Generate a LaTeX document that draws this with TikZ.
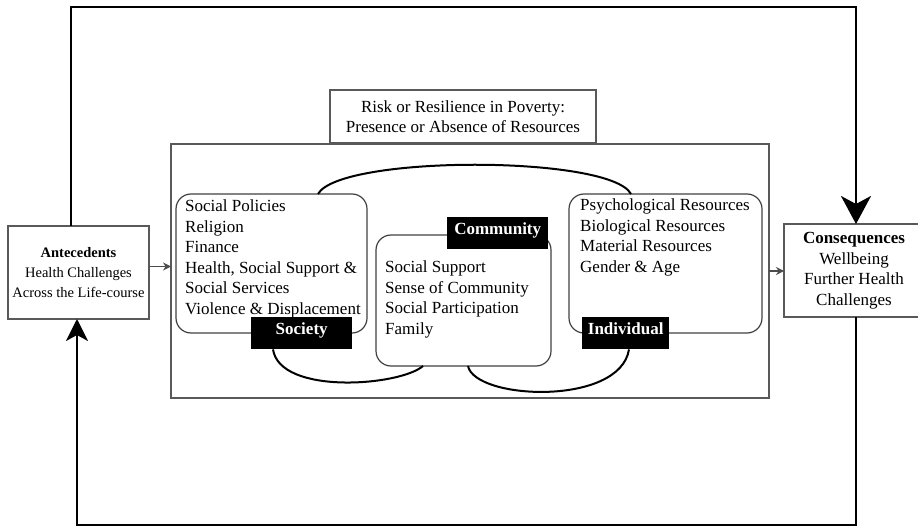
\documentclass[tikz,border=0pt]{standalone}
\usepackage{fontspec}
\setmainfont{Liberation Serif}
\usepackage{tikz}
\usetikzlibrary{arrows.meta}
\newcommand{\bodysize}{\fontsize{17}{20.5}\selectfont}
\newcommand{\smallsize}{\fontsize{14.5}{20}\selectfont}

\begin{document}
\begin{tikzpicture}[x=1pt,y=-1pt,
  box/.style={draw=black!65,line width=1.2pt,inner sep=0pt,outer sep=0pt,anchor=north west,font=\bodysize},
  rbox/.style={box,draw=black!75,rounded corners=15pt},
  tag/.style={fill=black,text=white,font=\bodysize\bfseries,inner xsep=0pt,inner ysep=4pt,text height=13pt,text depth=11pt,anchor=north west},
  items/.style={anchor=north west,align=left,inner sep=0pt,font=\bodysize},
  tie/.style={line width=2pt},
  feedback/.style={line width=2.6pt},
  flow/.style={line width=1.2pt,draw=black!70,-{Stealth[length=8pt,width=8pt]}}]
\useasboundingbox (0,0) rectangle (918,526);

\node[box,minimum width=598pt,minimum height=254pt] (frame) at (171,144) {};
\node[box,minimum width=266pt,minimum height=53pt,align=center] (title) at (330,90) {Risk or Resilience in Poverty:\\Presence or Absence of Resources};
\node[box,minimum width=141pt,minimum height=93pt,align=center,font=\smallsize] (ant) at (8,226) {\textbf{Antecedents}\\Health Challenges\\Across the Life-course};
\node[box,minimum width=140pt,minimum height=93pt,align=center] (cons) at (784,224) {\textbf{Consequences}\\Wellbeing\\Further Health\\Challenges};

\node[rbox,minimum width=191pt,minimum height=139pt] (soc) at (176,194) {};
\node[rbox,minimum width=175pt,minimum height=131pt] (com) at (376,235) {};
\node[rbox,minimum width=193pt,minimum height=139pt] (ind) at (569,194) {};
\node[items] (soctxt) at (185,200) {Social Policies\\Religion\\Finance\\Health, Social Support \&\\Social Services\\Violence \& Displacement};
\node[items] (comtxt) at (385,261) {Social Support\\Sense of Community\\Social Participation\\Family};
\node[items] (indtxt) at (580,199) {Psychological Resources\\Biological Resources\\Material Resources\\Gender \& Age};

\node[tag,minimum width=101pt] (soctag) at (251,317) {Society};
\node[tag,minimum width=101pt] (comtag) at (447,217) {Community};
\node[tag,minimum width=87pt] (indtag) at (582,317) {Individual};

\draw[tie] ([xshift=142pt]soc.north west) .. controls +(22,-39) and +(-21,-39) .. ([xshift=62pt]ind.north west);
\draw[tie] ([xshift=22pt]soctag.south west) .. controls +(7,46) and +(-23,20) .. ([xshift=47pt]com.south west);
\draw[tie] ([xshift=92pt]com.south west) .. controls +(7,34) and +(-9,57) .. ([xshift=47pt]indtag.south west);

\coordinate (antout) at ([yshift=6pt]ant.east);
\draw[flow] (antout) -- (antout -| frame.west);
\draw[flow] (frame.east) -- (frame.east -| cons.west);

\draw[feedback,-{Stealth[length=28pt,width=30pt,inset=8pt]}] ([xshift=63pt]ant.north west) -- ++(0,-219) -| ([xshift=72pt]cons.north west);
\draw[feedback,-{Stealth[length=22pt,width=22pt,inset=6pt]}] ([xshift=72pt]cons.south west) -- ++(0,208) -| ([xshift=69pt]ant.south west);
\end{tikzpicture}
\end{document}
